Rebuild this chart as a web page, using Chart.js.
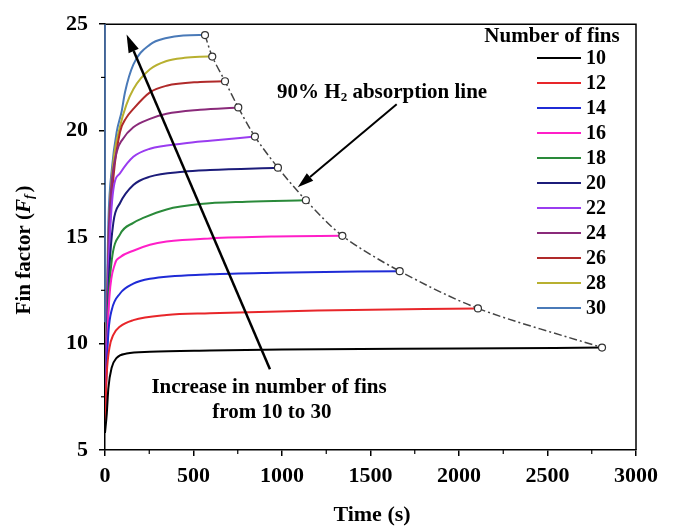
<!DOCTYPE html>
<html>
<head>
<meta charset="utf-8">
<script src="https://cdn.jsdelivr.net/npm/chart.js@4.4.0/dist/chart.umd.min.js"></script>
<style>
html, body { margin: 0; padding: 0; background: #fff; }
</style>
</head>
<body>
<canvas id="myChart" width="676" height="530"></canvas>
<script>
// values
const finCounts = ['10', '12', '14', '16', '18', '20', '22', '24', '26', '28', '30'];

const time10 = [0, 10, 19, 38, 66, 122, 254, 593, 1000, 2000, 2808];
const ff10 = [5.8, 6.7, 7.9, 8.87, 9.33, 9.53, 9.61, 9.67, 9.72, 9.77, 9.81];
const time12 = [0, 10, 25, 47, 85, 160, 348, 593, 1200, 2107];
const ff12 = [6.4, 8.6, 9.8, 10.41, 10.8, 11.1, 11.34, 11.42, 11.55, 11.65];
const time14 = [0, 10, 20, 38, 85, 160, 254, 593, 960, 1665];
const ff14 = [6.5, 9.0, 10.6, 11.58, 12.35, 12.81, 13.04, 13.25, 13.33, 13.40];
const time16 = [0, 10, 25, 56, 85, 160, 254, 348, 593, 960, 1341];
const ff16 = [6.5, 9.5, 12.2, 13.74, 14.05, 14.36, 14.64, 14.79, 14.94, 15.03, 15.06];
const time18 = [0, 10, 20, 38, 85, 160, 216, 348, 537, 800, 1135];
const ff18 = [6.6, 9.5, 12.0, 13.9, 15.13, 15.67, 15.9, 16.3, 16.55, 16.66, 16.73];
const time20 = [0, 10, 25, 47, 85, 160, 254, 442, 593, 977];
const ff20 = [6.7, 10.0, 13.5, 15.67, 16.6, 17.45, 17.84, 18.07, 18.15, 18.26];
const time22 = [0, 10, 22, 47, 85, 160, 254, 442, 593, 847];
const ff22 = [6.7, 10.5, 14.0, 17.22, 18.0, 18.77, 19.15, 19.4, 19.53, 19.72];
const time24 = [0, 10, 20, 35, 66, 100, 160, 254, 348, 537, 753];
const ff24 = [6.8, 11.0, 15.0, 17.3, 19.0, 19.6, 20.16, 20.55, 20.79, 20.98, 21.09];
const time26 = [0, 12, 25, 50, 85, 120, 160, 254, 348, 537, 678];
const ff26 = [7.0, 11.0, 15.0, 18.0, 19.94, 20.6, 21.02, 21.8, 22.11, 22.29, 22.32];
const time28 = [0, 10, 22, 47, 85, 120, 160, 254, 348, 450, 537, 606];
const ff28 = [7.0, 11.5, 15.5, 18.5, 20.2, 21.2, 21.95, 22.88, 23.27, 23.42, 23.47, 23.48];
const time30 = [0, 8, 19, 40, 66, 94, 113, 160, 254, 348, 442, 565];
const ff30 = [7.0, 11.0, 15.7, 18.3, 19.94, 20.9, 21.8, 23.1, 24.04, 24.35, 24.47, 24.49];

// 90% H2 absorption points (end of each curve)
const endTimes = [565, 606, 678, 753, 847, 977, 1135, 1341, 1665, 2107, 2808];
const endFactors = [24.49, 23.48, 22.32, 21.09, 19.72, 18.26, 16.73, 15.06, 13.40, 11.65, 9.81];

const xTicks = [0, 500, 1000, 1500, 2000, 2500, 3000];
const yTicks = [5, 10, 15, 20, 25];

const seriesTimes = [time10, time12, time14, time16, time18, time20, time22, time24, time26, time28, time30];
const seriesValues = [ff10, ff12, ff14, ff16, ff18, ff20, ff22, ff24, ff26, ff28, ff30];
const seriesColors = ['#000000', '#e8262a', '#1f2bd6', '#ff1fc8', '#2a8a3a', '#1c1c7a',
    '#9a3cf0', '#8a2a7a', '#b02a2a', '#b8b030', '#4a7ab8'];

const serif = '"Liberation Serif", "Times New Roman", serif';

function toPoints(xs, ys) {
    return xs.map((x, i) => ({ x: x, y: ys[i] }));
}

const datasets = finCounts.map((label, i) => ({
    label: label,
    data: toPoints(seriesTimes[i], seriesValues[i]),
    borderColor: seriesColors[i],
    borderWidth: 2,
    pointRadius: 0,
    cubicInterpolationMode: 'monotone',
    fill: false,
    order: 2,
}));

datasets.push({
    label: '90% H2 absorption line',
    data: toPoints(endTimes, endFactors),
    borderColor: '#444',
    borderWidth: 1.5,
    borderDash: [8, 3, 2, 3],
    pointRadius: 3.5,
    pointBorderWidth: 1.2,
    pointBorderColor: '#333',
    pointBackgroundColor: '#fff',
    tension: 0.3,
    fill: false,
    order: 0,
});

function drawArrow(ctx, x1, y1, x2, y2, width, headLen, headW) {
    const ang = Math.atan2(y2 - y1, x2 - x1);
    const bx = x2 - headLen * Math.cos(ang);
    const by = y2 - headLen * Math.sin(ang);
    ctx.save();
    ctx.strokeStyle = '#000';
    ctx.fillStyle = '#000';
    ctx.lineWidth = width;
    ctx.beginPath();
    ctx.moveTo(x1, y1);
    ctx.lineTo(bx, by);
    ctx.stroke();
    ctx.beginPath();
    ctx.moveTo(x2, y2);
    ctx.lineTo(bx + headW / 2 * Math.sin(ang), by - headW / 2 * Math.cos(ang));
    ctx.lineTo(bx - headW / 2 * Math.sin(ang), by + headW / 2 * Math.cos(ang));
    ctx.closePath();
    ctx.fill();
    ctx.restore();
}

const extras = {
    id: 'extras',
    afterDraw(chart) {
        const ctx = chart.ctx;
        const xs = chart.scales.x;
        const ys = chart.scales.y;
        const a = chart.chartArea;

        ctx.save();
        // frame on top and right
        ctx.strokeStyle = '#000';
        ctx.lineWidth = 1.5;
        ctx.beginPath();
        ctx.moveTo(a.left, a.top);
        ctx.lineTo(a.right, a.top);
        ctx.lineTo(a.right, a.bottom);
        ctx.stroke();

        // left axis looks steel blue over its upper part
        ctx.strokeStyle = '#4a6fa5';
        ctx.lineWidth = 1.8;
        ctx.beginPath();
        ctx.moveTo(a.left, a.top);
        ctx.lineTo(a.left, ys.getPixelForValue(11));
        ctx.stroke();

        // minor ticks
        ctx.strokeStyle = '#000';
        ctx.lineWidth = 1.2;
        for (let t = 250; t < 3000; t += 500) {
            const px = xs.getPixelForValue(t);
            ctx.beginPath();
            ctx.moveTo(px, a.bottom);
            ctx.lineTo(px, a.bottom + 4);
            ctx.stroke();
        }
        for (let f = 7.5; f < 25; f += 5) {
            const py = ys.getPixelForValue(f);
            ctx.beginPath();
            ctx.moveTo(a.left, py);
            ctx.lineTo(a.left - 4, py);
            ctx.stroke();
        }

        // arrows
        drawArrow(ctx, xs.getPixelForValue(932), ys.getPixelForValue(8.79),
            xs.getPixelForValue(122), ys.getPixelForValue(24.52), 2.5, 18, 11);
        drawArrow(ctx, xs.getPixelForValue(1648), ys.getPixelForValue(21.24),
            xs.getPixelForValue(1089), ys.getPixelForValue(17.34), 2, 16, 10);

        // annotation text
        ctx.fillStyle = '#000';
        ctx.font = 'bold 21px ' + serif;
        ctx.textAlign = 'center';
        ctx.textBaseline = 'middle';
        ctx.fillText('Increase in number of fins', xs.getPixelForValue(927), ys.getPixelForValue(7.92));
        ctx.fillText('from 10 to 30', xs.getPixelForValue(943), ys.getPixelForValue(6.76));

        ctx.textAlign = 'left';
        let tx = xs.getPixelForValue(972);
        const ty = ys.getPixelForValue(21.8);
        ctx.fillText('90% H', tx, ty);
        tx += ctx.measureText('90% H').width;
        ctx.font = 'bold 13px ' + serif;
        ctx.fillText('2', tx, ty + 5);
        tx += ctx.measureText('2').width;
        ctx.font = 'bold 21px ' + serif;
        ctx.fillText(' absorption line', tx, ty);

        // legend
        ctx.textAlign = 'center';
        ctx.fillText('Number of fins', 552, 37);
        ctx.font = 'bold 20px ' + serif;
        ctx.textAlign = 'left';
        finCounts.forEach((label, i) => {
            const ly = 58 + i * 25;
            ctx.strokeStyle = seriesColors[i];
            ctx.lineWidth = 2;
            ctx.beginPath();
            ctx.moveTo(537, ly);
            ctx.lineTo(581, ly);
            ctx.stroke();
            ctx.fillText(label, 586, ly + 1);
        });

        // axis titles
        ctx.textAlign = 'center';
        ctx.font = 'bold 22px ' + serif;
        ctx.fillText('Time (s)', 372, 515);

        ctx.translate(25, 250);
        ctx.rotate(-Math.PI / 2);
        const parts = [
            { t: 'Fin factor (', f: 'bold 21px ' + serif, dy: 0, gap: 0 },
            { t: 'F', f: 'italic bold 21px ' + serif, dy: 0, gap: 0 },
            { t: 'f', f: 'italic bold 13px ' + serif, dy: 5, gap: 2 },
            { t: ')', f: 'bold 21px ' + serif, dy: 0, gap: 0 },
        ];
        let total = 0;
        parts.forEach(p => { ctx.font = p.f; total += ctx.measureText(p.t).width + p.gap; });
        let cx = -total / 2;
        ctx.textAlign = 'left';
        parts.forEach(p => {
            ctx.font = p.f;
            ctx.fillText(p.t, cx, p.dy);
            cx += ctx.measureText(p.t).width + p.gap;
        });
        ctx.restore();
    }
};

const ctx = document.getElementById('myChart').getContext('2d');
const myChart = new Chart(ctx, {
    type: 'line',
    data: { datasets: datasets },
    options: {
        responsive: false,
        animation: false,
        layout: { padding: { top: 19, right: 40, left: 0, bottom: 0 } },
        plugins: { legend: { display: false }, tooltip: { enabled: false } },
        scales: {
            x: {
                type: 'linear',
                min: 0,
                max: 3000,
                afterBuildTicks: scale => { scale.ticks = xTicks.map(v => ({ value: v })); },
                afterFit: scale => { scale.height = 80; },
                ticks: {
                    color: '#000',
                    padding: 7,
                    maxRotation: 0,
                    callback: v => String(v),
                    font: { family: serif, size: 22, weight: 'bold' },
                },
                grid: { drawOnChartArea: false, drawTicks: true, tickLength: 6, color: '#000', lineWidth: 1.5 },
                border: { color: '#000', width: 1.5 },
            },
            y: {
                type: 'linear',
                min: 5,
                max: 25,
                afterBuildTicks: scale => { scale.ticks = yTicks.map(v => ({ value: v })); },
                afterFit: scale => { scale.width = 105; },
                ticks: {
                    color: '#000',
                    padding: 11,
                    callback: v => String(v),
                    font: { family: serif, size: 22, weight: 'bold' },
                },
                grid: { drawOnChartArea: false, drawTicks: true, tickLength: 6, color: '#000', lineWidth: 1.5 },
                border: { color: '#000', width: 1.5 },
            },
        },
    },
    plugins: [extras],
});
</script>
</body>
</html>
